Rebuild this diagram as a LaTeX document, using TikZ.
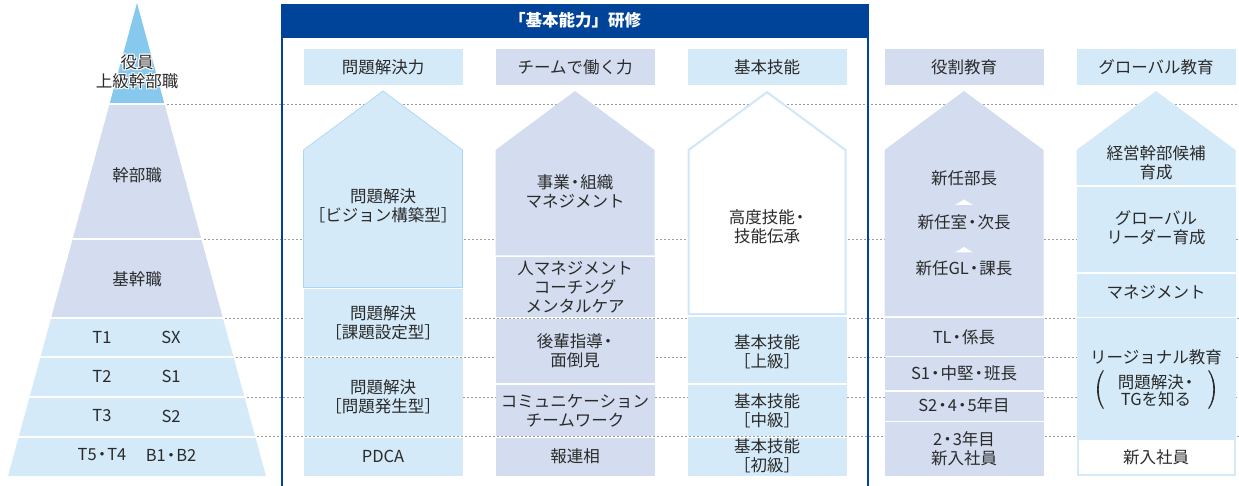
\documentclass[tikz,border=0pt]{standalone}
\usepackage{fontspec}
\setmainfont{Noto Sans CJK JP}
\definecolor{hdrblue}{HTML}{00449A}
\definecolor{lblue}{HTML}{D4EAF8}
\definecolor{lav}{HTML}{D3DDEF}
\definecolor{topblue}{HTML}{86C8EE}
\definecolor{txt}{HTML}{2A2A2A}
\definecolor{dotgray}{HTML}{9C9C9C}
\definecolor{outl}{HTML}{A9D7F2}
\definecolor{outlc}{HTML}{CFE7F7}
\newcommand\dt{\kern-3pt・\kern-3pt}
\newcommand\halotext[4]{%
  \foreach \dx/\dy in {-1/0,1/0,0/-1,0/1,-0.8/-0.8,0.8/0.8,-0.8/0.8,0.8/-0.8}
    {\node[lbl,text=white] at (#2+\dx,#3+\dy) {#4};}
  \node[lbl] (#1) at (#2,#3) {#4};}
\begin{document}
\begin{tikzpicture}[x=1pt,y=-1pt,
  lbl/.style={text=txt,font=\fontsize{16.5}{19}\selectfont,align=center,inner sep=0pt},
  hdrlbl/.style={text=white,font=\fontsize{16.5}{19}\selectfont\bfseries,inner sep=0pt},
  dotline/.style={dotgray,line width=0.8pt,dash pattern=on 2pt off 2pt},
  sep/.style={white,line width=2pt}]
\useasboundingbox (0,0) rectangle (1239,486);

% ---------- pyramid ----------
\fill[topblue] (137,3) -- (164.6,104.5) -- (109.4,104.5) -- cycle;
\fill[lav] (109.4,104.5) -- (164.6,104.5) -- (222.9,318) -- (51.1,318) -- cycle;
\fill[lblue] (51.1,318) -- (222.9,318) -- (266,476) -- (8,476) -- cycle;
\foreach \y in {104.5,239,318,357,397,436.5} \draw[sep] (0,\y) -- (280,\y);

% ---------- dotted level lines ----------
\foreach \y/\x in {104.5/167,239/204,318/225,357/236,397/247,436.5/257}
  \draw[dotline] (\x,\y) -- (1239,\y);

% pyramid labels
\halotext{p0}{137}{71.5}{役員\\上級幹部職}
\node[lbl] (p1) at (137,175) {幹部職};
\node[lbl] (p2) at (137,279) {基幹職};
\node[lbl] (p3a) at (102,337) {T1};
\node[lbl] (p3b) at (171,337) {SX};
\node[lbl] (p4a) at (102,376) {T2};
\node[lbl] (p4b) at (171,376) {S1};
\node[lbl] (p5a) at (102,416) {T3};
\node[lbl] (p5b) at (171,416) {S2};
\node[lbl] (p6a) at (102,455) {T5\dt T4};
\node[lbl] (p6b) at (171,455) {B1\dt B2};

% ---------- blue frame ----------
\fill[hdrblue] (281,4.5) rectangle (869,38.5);
\draw[hdrblue,line width=2.5pt] (282.2,5) -- (282.2,486);
\draw[hdrblue,line width=2.5pt] (867.8,5) -- (867.8,486);
\node[hdrlbl] (hdr) at (575,20.5) {「基本能力」研修};

% ---------- column headers ----------
\fill[lblue] (303.5,49) rectangle (462.5,85);
\node[lbl] (h1) at (383,67) {問題解決力};
\fill[lav] (495.5,49) rectangle (654.5,85);
\node[lbl] (h2) at (575,67) {チームで働く力};
\fill[lblue] (687.5,49) rectangle (846.5,85);
\node[lbl] (h3) at (767,67) {基本技能};
\fill[lav] (884.5,49) rectangle (1043.5,85);
\node[lbl] (h4) at (964,67) {役割教育};
\fill[lblue] (1076.5,49) rectangle (1235.5,85);
\node[lbl] (h5) at (1156,67) {グローバル教育};

% ---------- column 1 ----------
\fill[lblue] (303.5,150) -- (383,91) -- (462.5,150) -- (462.5,287.5) -- (303.5,287.5) -- cycle;
\draw[outl,line width=0.7pt] (303.5,150) -- (383,91) -- (462.5,150) -- (462.5,287.5) -- (303.5,287.5) -- cycle;
\fill[lblue] (303.5,289.5) rectangle (462.5,355.5);
\fill[lblue] (303.5,357.5) rectangle (462.5,435.5);
\fill[lblue] (303.5,437.5) rectangle (462.5,476);
\node[lbl] (a1) at (383,206) {問題解決\\［ビジョン構築型］};
\node[lbl] (a2) at (383,323) {問題解決\\［課題設定型］};
\node[lbl] (a3) at (383,397) {問題解決\\［問題発生型］};
\node[lbl] (a4) at (383,456) {PDCA};

% ---------- column 2 ----------
\fill[lav] (495.5,150) -- (575,91) -- (654.5,150) -- (654.5,255.5) -- (495.5,255.5) -- cycle;
\fill[lav] (495.5,257.5) rectangle (654.5,317);
\fill[lav] (495.5,319) rectangle (654.5,383);
\fill[lav] (495.5,385) rectangle (654.5,435.5);
\fill[lav] (495.5,437.5) rectangle (654.5,476);
\node[lbl] (b1) at (575,191) {事業\dt 組織\\マネジメント};
\node[lbl] (b2) at (575,287) {人マネジメント\\コーチング\\メンタルケア};
\node[lbl] (b3) at (575,351) {後輩指導\dt\\面倒見};
\node[lbl] (b4) at (575,411) {コミュニケーション\\チームワーク};
\node[lbl] (b5) at (575,456) {報連相};

% ---------- column 3 ----------
\filldraw[fill=white,draw=outlc,line width=2pt] (688.5,150) -- (767,92.2) -- (845.5,150) -- (845.5,314) -- (688.5,314) -- cycle;
\fill[lblue] (687.5,316.5) rectangle (846.5,382.5);
\fill[lblue] (687.5,384.5) rectangle (846.5,435.5);
\fill[lblue] (687.5,437.5) rectangle (846.5,476);
\node[lbl] (c1) at (767,227) {高度技能\dt\\技能伝承};
\node[lbl] (c2) at (767,352) {基本技能\\［上級］};
\node[lbl] (c3) at (767,411) {基本技能\\［中級］};
\node[lbl] (c4) at (767,456) {基本技能\\［初級］};

% ---------- column 4 ----------
\fill[lav] (884.5,150) -- (964,91) -- (1043.5,150) -- (1043.5,316) -- (884.5,316) -- cycle;
\fill[lav] (884.5,318) rectangle (1043.5,355.5);
\fill[lav] (884.5,357) rectangle (1043.5,390);
\fill[lav] (884.5,392) rectangle (1043.5,420.5);
\fill[lav] (884.5,422) rectangle (1043.5,476);
\fill[white] (955,205) -- (964,199.5) -- (973,205) -- cycle;
\fill[white] (955,252.5) -- (964,247) -- (973,252.5) -- cycle;
\node[lbl] (d1) at (964,178) {新任部長};
\node[lbl] (d2) at (964,222) {新任室\dt 次長};
\node[lbl] (d3) at (964,268) {新任GL\dt 課長};
\node[lbl] (d4) at (964,337) {TL\dt 係長};
\node[lbl] (d5) at (964,373) {S1\dt 中堅\dt 班長};
\node[lbl] (d6) at (964,405) {S2\dt 4\dt 5年目};
\node[lbl] (d7) at (964,449) {2\dt 3年目\\新入社員};

% ---------- column 5 ----------
\fill[lblue] (1076.5,150) -- (1156,91) -- (1235.5,150) -- (1235.5,185) -- (1076.5,185) -- cycle;
\fill[lblue] (1076.5,187) rectangle (1235.5,272);
\fill[lblue] (1076.5,274) rectangle (1235.5,316.5);
\fill[lblue] (1076.5,318) rectangle (1235.5,476);
\fill[white] (1078.5,440) rectangle (1233.5,474);
\node[lbl] (e1) at (1156,163) {経営幹部候補\\育成};
\node[lbl] (e2) at (1156,228) {グローバル\\リーダー育成};
\node[lbl] (e3) at (1156,292) {マネジメント};
\node[lbl] (e4) at (1156,357) {リージョナル教育};
\node[lbl,font=\fontsize{16.5}{17}\selectfont] (e5) at (1156,391) {問題解決\dt\\TGを知る};
% large parentheses around e5
\fill[txt] (1103,370) .. controls (1095,381) and (1095,398) .. (1103,409)
  -- (1103.8,408.4) .. controls (1097,398) and (1097,381) .. (1103.8,370.6) -- cycle;
\fill[txt] (1209,370) .. controls (1217,381) and (1217,398) .. (1209,409)
  -- (1208.2,408.4) .. controls (1215,398) and (1215,381) .. (1208.2,370.6) -- cycle;
\node[lbl] (e6) at (1156,457) {新入社員};
\end{tikzpicture}
\end{document}
